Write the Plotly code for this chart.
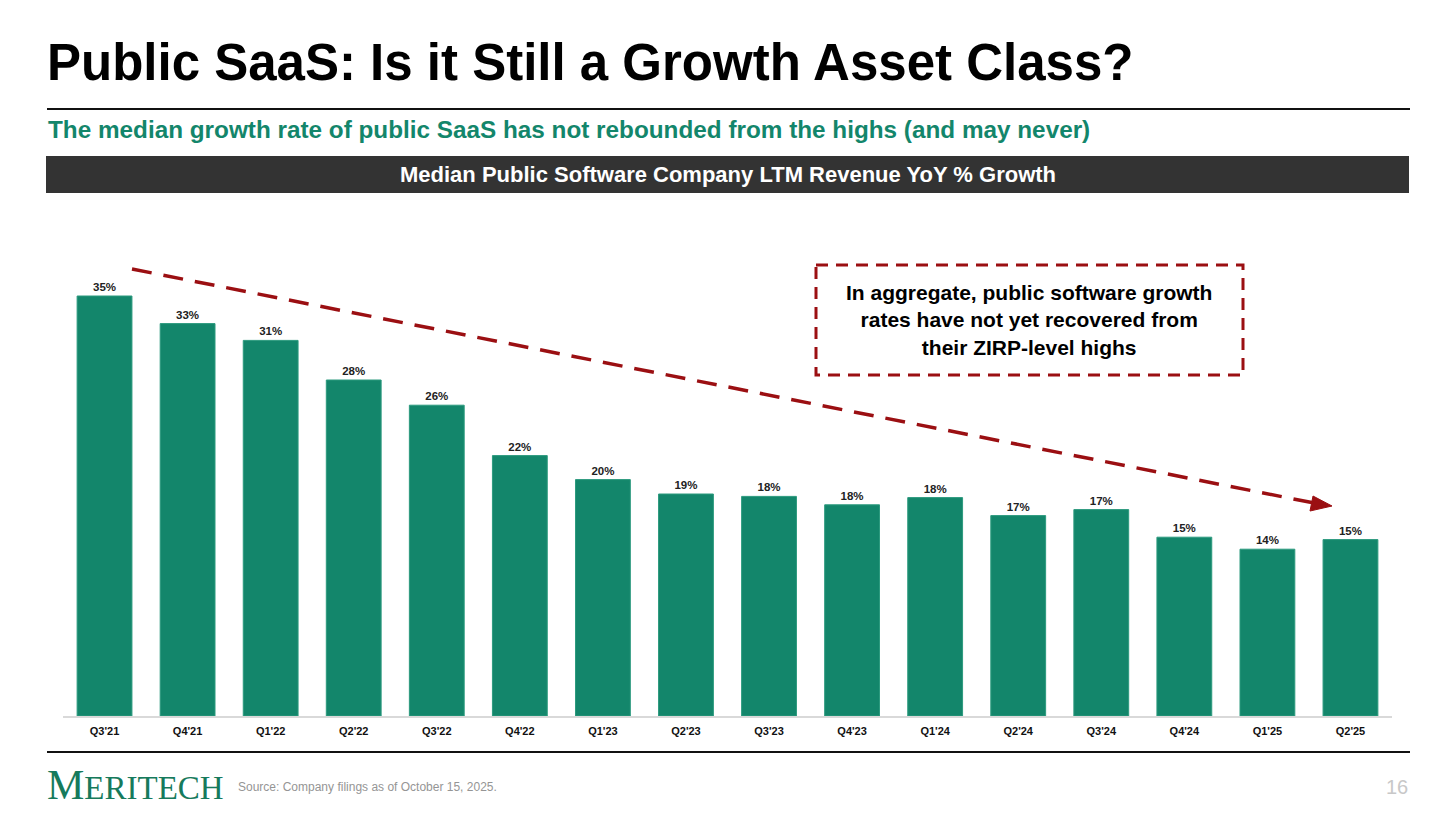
import plotly.graph_objects as go

W, H = 1456, 820

quarters = ["Q3'21", "Q4'21", "Q1'22", "Q2'22", "Q3'22", "Q4'22", "Q1'23", "Q2'23",
            "Q3'23", "Q4'23", "Q1'24", "Q2'24", "Q3'24", "Q4'24", "Q1'25", "Q2'25"]
growth = [35.0, 32.7, 31.3, 28.0, 25.9, 21.7, 19.7, 18.5,
          18.3, 17.6, 18.2, 16.7, 17.2, 14.9, 13.9, 14.7]

GREEN = "#13866b"
RED = "#9b0f12"
FONT = "Liberation Sans, Arial, sans-serif"


def px(x):
    return x / W


def py(y):
    return 1 - y / H


fig = go.Figure()
fig.add_trace(go.Bar(
    x=quarters, y=growth,
    marker=dict(color=GREEN, line=dict(color="#2c9a7e", width=1)),
    width=0.66,
    text=growth, texttemplate="<b>%{y:.0f}%</b>", textposition="outside",
    textfont=dict(size=11.5, color="#222222", family=FONT),
    cliponaxis=False,
    hoverinfo="skip",
))

fig.update_layout(
    width=W, height=H,
    margin=dict(l=0, r=0, t=0, b=0),
    paper_bgcolor="white", plot_bgcolor="white",
    showlegend=False,
    font=dict(family=FONT),
    xaxis=dict(domain=[px(63), px(1392)], showgrid=False, showline=True,
               linecolor="#d9d9d9", linewidth=2, ticks="", ticklabelstandoff=4,
               tickfont=dict(size=11, color="#111111", family=FONT),
               tickprefix="<b>", ticksuffix="</b>"),
    yaxis=dict(domain=[py(716), py(260)], range=[0, 38], visible=False),
    bargap=0.34,
)

shapes = [
    # header rule
    dict(type="line", xref="paper", yref="paper", x0=px(47), x1=px(1410),
         y0=py(109), y1=py(109), line=dict(color="#111111", width=2)),
    # dark header bar
    dict(type="rect", xref="paper", yref="paper", x0=px(46), x1=px(1409),
         y0=py(156), y1=py(193), fillcolor="#333333", line=dict(width=0)),
    # footer rule
    dict(type="line", xref="paper", yref="paper", x0=px(47), x1=px(1410),
         y0=py(752), y1=py(752), line=dict(color="#111111", width=2)),
    # callout box
    dict(type="rect", xref="paper", yref="paper", x0=px(816), x1=px(1243),
         y0=py(265), y1=py(375), line=dict(color=RED, width=3, dash="12px,8px")),
    # trend line
    dict(type="line", xref="paper", yref="paper", x0=px(132), x1=px(1314),
         y0=py(269), y1=py(503), line=dict(color=RED, width=3.5, dash="20px,12px")),
    # arrow head
    dict(type="path", xref="paper", yref="paper",
         path=f"M {px(1332)} {py(506)} L {px(1313)} {py(496)} L {px(1310)} {py(511)} Z",
         fillcolor=RED, line=dict(color=RED, width=1)),
]
fig.update_layout(shapes=shapes)

ann = [
    dict(text="<b>Public SaaS: Is it Still a Growth Asset Class?</b>", x=px(45), y=py(63),
         xanchor="left", yanchor="middle", font=dict(size=51, color="black")),
    dict(text="<b>The median growth rate of public SaaS has not rebounded from the highs (and may never)</b>",
         x=px(46), y=py(129), xanchor="left", yanchor="middle",
         font=dict(size=24.3, color=GREEN)),
    dict(text="<b>Median Public Software Company LTM Revenue YoY % Growth</b>",
         x=px(728), y=py(175), xanchor="center", yanchor="middle",
         font=dict(size=22, color="white")),
    dict(text="<b>In aggregate, public software growth<br>rates have not yet recovered from<br>their ZIRP-level highs</b>",
         x=px(1029), y=py(320), xanchor="center", yanchor="middle",
         font=dict(size=21, color="black")),
    dict(text="<span style='font-size:42px'>M</span>ERITECH", x=px(45), y=py(785),
         xanchor="left", yanchor="middle",
         font=dict(size=33, color="#167a5c", family="Liberation Serif, serif")),
    dict(text="Source: Company filings as of October 15, 2025.", x=px(236), y=py(787),
         xanchor="left", yanchor="middle", font=dict(size=12, color="#959595")),
    dict(text="16", x=px(1410), y=py(787), xanchor="right", yanchor="middle",
         font=dict(size=20, color="#c8c8c8")),
]
for a in ann:
    a.update(xref="paper", yref="paper", showarrow=False)
fig.update_layout(annotations=ann)

fig.write_html("out.html", config={"displayModeBar": False},
               post_script="document.body.style.margin = '0';")
